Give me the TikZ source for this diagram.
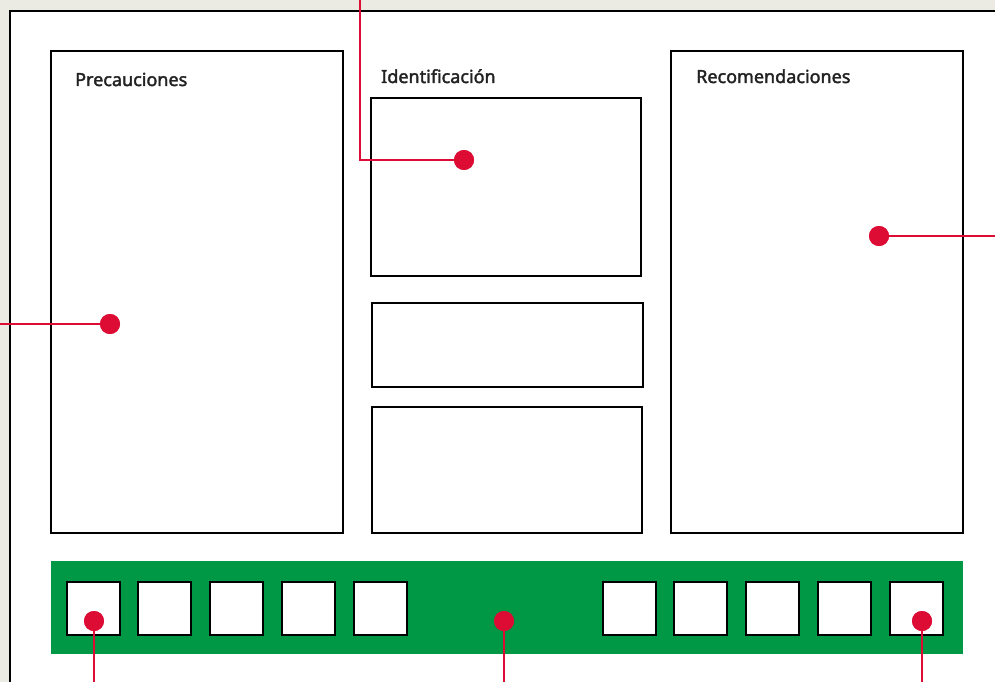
\documentclass[tikz,border=0pt]{standalone}
\usepackage{fontspec}
\setmainfont{Noto Sans}[FakeBold=2]
\definecolor{bgbeige}{HTML}{ECEBE3}
\definecolor{pinred}{HTML}{DC0C35}
\definecolor{bargreen}{HTML}{009845}
\definecolor{txtgray}{HTML}{222222}
\begin{document}
\begin{tikzpicture}[x=1pt,y=-1pt,
  panel/.style={draw=black,line width=1.1pt,fill=white},
  slot/.style={draw=black,line width=1.1pt,fill=white},
  lbl/.style={anchor=base west,inner sep=0pt,font=\fontsize{18}{20}\selectfont,text=txtgray},
  pin/.style={circle,fill=pinred,inner sep=0pt,minimum size=20pt},
  lead/.style={draw=pinred,line width=2.6pt}]
\useasboundingbox (0,0) rectangle (995,682);
\fill[bgbeige] (0,0) rectangle (995,682);
\draw[line width=1.3pt,fill=white] (10,11) rectangle (1000,690);
% panels
\draw[panel] (51,51) rectangle (343,533);
\draw[panel] (371,98) rectangle (641,276);
\draw[panel] (372,303) rectangle (643,387);
\draw[panel] (372,407) rectangle (642,533);
\draw[panel] (671,51) rectangle (963,533);
\node[lbl] (lp) at (75,86) {Precauciones};
\node[lbl] (li) at (381,83) {Identificación};
\node[lbl] (lr) at (696,83) {Recomendaciones};
% green bar
\fill[bargreen] (51,561) rectangle (963,654);
\foreach \x in {67,138,210,282,354,603,674,746,818,890}
  \draw[slot] (\x,582) rectangle ++(53,53);
% coordinates
\coordinate (e1) at (360,-2);
\coordinate (k1) at (360,160);
\coordinate (e2) at (-2,324);
\coordinate (e3) at (997,236);
\coordinate (e4) at (94,684);
\coordinate (e5) at (504,684);
\coordinate (e6) at (922,684);
\node[pin] (p1) at (464,160) {};
\node[pin] (p2) at (110,324) {};
\node[pin] (p3) at (879,236) {};
\node[pin] (p4) at (94,621) {};
\node[pin] (p5) at (504,621) {};
\node[pin] (p6) at (922,621) {};
\draw[lead] (p1.center) -- (k1) -- (e1);
\draw[lead] (p2.center) -- (e2);
\draw[lead] (p3.center) -- (e3);
\draw[lead] (p4.center) -- (e4);
\draw[lead] (p5.center) -- (e5);
\draw[lead] (p6.center) -- (e6);
\node[pin] at (p1) {};
\node[pin] at (p2) {};
\node[pin] at (p3) {};
\node[pin] at (p4) {};
\node[pin] at (p5) {};
\node[pin] at (p6) {};
\end{tikzpicture}
\end{document}
